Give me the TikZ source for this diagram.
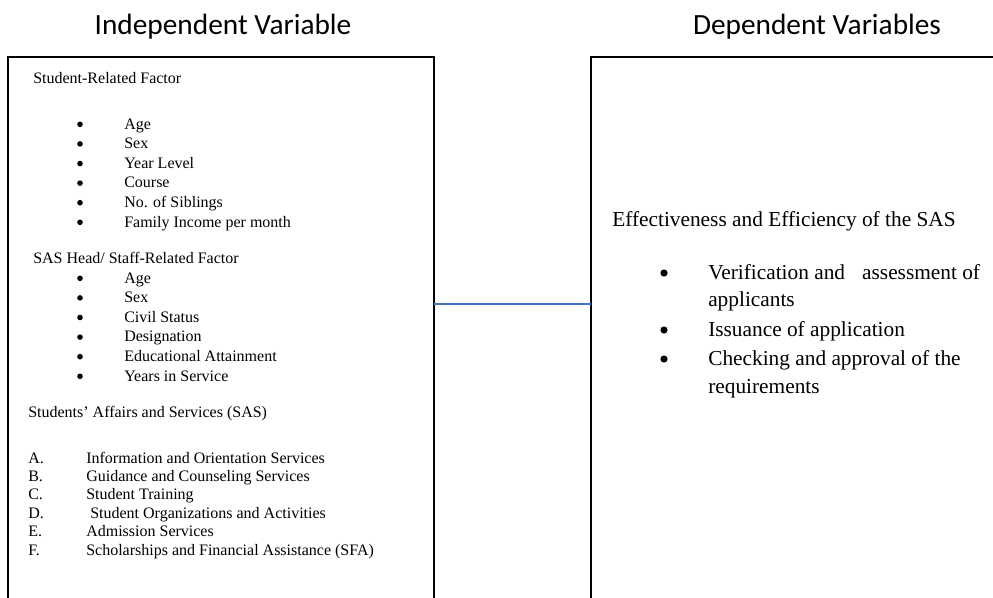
\documentclass[tikz,border=0pt]{standalone}
\usepackage{fontspec}
\setmainfont{Liberation Serif}
\newfontfamily\titlefont{Carlito}
\definecolor{linkblue}{RGB}{68,114,196}
\begin{document}
\begin{tikzpicture}[x=0.75pt,y=-0.75pt,
    varbox/.style={draw, line width=1.5pt, rectangle, anchor=north west, inner sep=0pt, outer sep=0pt},
    heading/.style={font=\titlefont\fontsize{22}{26}\selectfont, anchor=base},
    small/.style={font=\fontsize{12}{14}\selectfont, anchor=base west, inner sep=0pt},
    large/.style={font=\fontsize{16}{19}\selectfont, anchor=base west, inner sep=0pt},
    smallbul/.style={circle, fill, inner sep=0pt, minimum size=4.2pt},
    largebul/.style={circle, fill, inner sep=0pt, minimum size=5.4pt},
    link/.style={line width=1.1pt, linkblue}]
  \useasboundingbox (0,0) rectangle (993,597);
  \clip (0,0) rectangle (993,597);

  % titles
  \node[heading] (indeptitle) at (223,34) {Independent Variable};
  \node[heading] (deptitle) at (817,34) {Dependent Variables};

  % the two boxes (they run past the bottom edge)
  \node[varbox, minimum width=319.5pt, minimum height=422pt] (indep) at (8,57) {};
  \node[varbox, minimum width=314pt, minimum height=422pt] (dep) at (591,57) {};

  % independent variable
  \node[small] (stuhead) at (33,83) {Student-Related Factor};
  \foreach \t [count=\i] in {Age,Sex,Year Level,Course,No. of Siblings,Family Income per month}{
    \node[smallbul] (stub\i) at (80,{124.3+19.6*(\i-1)}) {};
    \node[small] (stu\i) at (124,{129+19.6*(\i-1)}) {\t};
  }
  \node[small] (staffhead) at (33,263) {SAS Head/ Staff-Related Factor};
  \foreach \t [count=\i] in {Age,Sex,Civil Status,Designation,Educational Attainment,Years in Service}{
    \node[smallbul] (staffb\i) at (80,{278.3+19.6*(\i-1)}) {};
    \node[small] (staff\i) at (124,{283+19.6*(\i-1)}) {\t};
  }
  \node[small] (sashead) at (28,417) {Students’ Affairs and Services (SAS)};
  \foreach \l/\x/\t [count=\i] in {A./86/Information and Orientation Services,
      B./86/Guidance and Counseling Services,
      C./86/Student Training,
      D./90/Student Organizations and Activities,
      E./86/Admission Services,
      F./86/Scholarships and Financial Assistance (SFA)}{
    \node[small] (sasl\i) at (28,{463+18.4*(\i-1)}) {\l};
    \node[small] (sas\i) at (\x,{463+18.4*(\i-1)}) {\t};
  }

  % dependent variables
  \node[large] (effhead) at (612,226) {Effectiveness and Efficiency of the SAS};
  \node[largebul] (effb1) at (664,273) {};
  \node[large] (eff1) at (708,279) {Verification and\hspace{0.8em}assessment of};
  \node[large] (eff1b) at (708,306) {applicants};
  \node[largebul] (effb2) at (664,330) {};
  \node[large] (eff2) at (708,336) {Issuance of application};
  \node[largebul] (effb3) at (664,359) {};
  \node[large] (eff3) at (708,365) {Checking and approval of the};
  \node[large] (eff3b) at (708,393) {requirements};

  \coordinate (linky) at (0,304);
  \draw[link] (indep.east |- linky) -- (dep.west |- linky);
\end{tikzpicture}
\end{document}
